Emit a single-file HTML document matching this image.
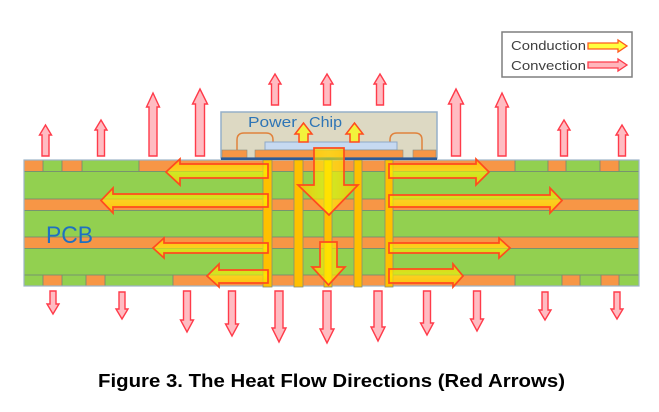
<!DOCTYPE html>
<html>
<head>
<meta charset="utf-8">
<style>
  html,body{margin:0;padding:0;background:#fff;}
  svg{display:block;}
</style>
</head>
<body>
<svg width="659" height="412" viewBox="0 0 659 412" xmlns="http://www.w3.org/2000/svg">
  <defs>
    <linearGradient id="condH" x1="0" y1="0" x2="0" y2="1">
      <stop offset="0" stop-color="#FFC000" stop-opacity="0.8"/>
      <stop offset="0.5" stop-color="#FFFF00" stop-opacity="0.55"/>
      <stop offset="1" stop-color="#FFC000" stop-opacity="0.8"/>
    </linearGradient>
    <linearGradient id="condV" x1="0" y1="0" x2="1" y2="0">
      <stop offset="0" stop-color="#FFC000" stop-opacity="0.8"/>
      <stop offset="0.5" stop-color="#FFFF00" stop-opacity="0.55"/>
      <stop offset="1" stop-color="#FFC000" stop-opacity="0.8"/>
    </linearGradient>
  </defs>
  <rect width="659" height="412" fill="#fff"/>

  <!-- Legend -->
  <rect x="502" y="32" width="130" height="45" fill="#fff" stroke="#7F7F7F" stroke-width="1.5"/>
  <text x="511" y="50" font-family="Liberation Sans, sans-serif" font-size="12.5" fill="#404040" textLength="75" lengthAdjust="spacingAndGlyphs">Conduction</text>
  <text x="511" y="70" font-family="Liberation Sans, sans-serif" font-size="12.5" fill="#404040" textLength="75" lengthAdjust="spacingAndGlyphs">Convection</text>
  <polygon points="588,43 618,43 618,40 627,46 618,52 618,49 588,49" fill="#FFFF40" stroke="#FF5A1E" stroke-width="1.3"/>
  <polygon points="588,62 618,62 618,59 627,65 618,71 618,68 588,68" fill="#FFB6BC" stroke="#FF3B4A" stroke-width="1.3"/>

  <!-- Convection up arrows -->
  <g fill="#FFBCC2" stroke="#FF3B4A" stroke-width="1.4" stroke-linejoin="miter">
    <polygon points="42,156 42,135 39.5,135 45.5,125 51.5,135 49,135 49,156"/>
    <polygon points="97.5,156 97.5,130 95,130 101,120 107,130 104.5,130 104.5,156"/>
    <polygon points="149,156 149,107 146.5,107 153,93 159.5,107 157,107 157,156"/>
    <polygon points="195.5,156 195.5,104 192.5,104 200,89 207.5,104 204.5,104 204.5,156"/>
    <polygon points="271.5,105 271.5,84 269,84 275,74 281,84 278.5,84 278.5,105"/>
    <polygon points="323.5,105 323.5,84 321,84 327,74 333,84 330.5,84 330.5,105"/>
    <polygon points="376.5,105 376.5,84 374,84 380,74 386,84 383.5,84 383.5,105"/>
    <polygon points="451.5,156 451.5,104 448.5,104 456,89 463.5,104 460.5,104 460.5,156"/>
    <polygon points="498,156 498,107 495.5,107 502,93 508.5,107 506,107 506,156"/>
    <polygon points="560.5,156 560.5,130 558,130 564,120 570,130 567.5,130 567.5,156"/>
    <polygon points="618.5,156 618.5,135 616,135 622,125 628,135 625.5,135 625.5,156"/>
  </g>
  <!-- Convection down arrows -->
  <g fill="#FFBCC2" stroke="#FF3B4A" stroke-width="1.4">
    <polygon points="50,291 50,304 47,304 53,314 59,304 56,304 56,291"/>
    <polygon points="119,292 119,309 116,309 122,319 128,309 125,309 125,292"/>
    <polygon points="183.5,291 183.5,320 180.5,320 187,332 193.5,320 190.5,320 190.5,291"/>
    <polygon points="228.5,291 228.5,324 225.5,324 232,336 238.5,324 235.5,324 235.5,291"/>
    <polygon points="275,291 275,328 272,328 279,342 286,328 283,328 283,291"/>
    <polygon points="323,291 323,329 320,329 327,343 334,329 331,329 331,291"/>
    <polygon points="374,291 374,327 371,327 378,341 385,327 382,327 382,291"/>
    <polygon points="423.5,291 423.5,323 420.5,323 427,335 433.5,323 430.5,323 430.5,291"/>
    <polygon points="473.5,291 473.5,319 470.5,319 477,331 483.5,319 480.5,319 480.5,291"/>
    <polygon points="542,292 542,310 539,310 545,320 551,310 548,310 548,292"/>
    <polygon points="614,292 614,309 611,309 617,319 623,309 620,309 620,292"/>
  </g>

  <!-- PCB -->
  <rect x="24" y="160" width="615" height="126" fill="#92D050"/>
  <g fill="#F79646">
    <rect x="24" y="160" width="19" height="11"/>
    <rect x="62" y="160" width="20" height="11"/>
    <rect x="139" y="160" width="376" height="11"/>
    <rect x="548" y="160" width="18" height="11"/>
    <rect x="600" y="160" width="19" height="11"/>
    <rect x="24" y="199" width="615" height="11"/>
    <rect x="24" y="237" width="615" height="11"/>
    <rect x="43" y="275" width="19" height="11"/>
    <rect x="86" y="275" width="19" height="11"/>
    <rect x="173" y="275" width="342" height="11"/>
    <rect x="562" y="275" width="18" height="11"/>
    <rect x="601" y="275" width="18" height="11"/>
  </g>
  <g stroke="#6E8078" stroke-width="1" opacity="0.75">
    <line x1="24" y1="171.5" x2="639" y2="171.5"/>
    <line x1="24" y1="199" x2="639" y2="199"/>
    <line x1="24" y1="210.5" x2="639" y2="210.5"/>
    <line x1="24" y1="237" x2="639" y2="237"/>
    <line x1="24" y1="248.5" x2="639" y2="248.5"/>
    <line x1="24" y1="275" x2="639" y2="275"/>
    <line x1="43" y1="160" x2="43" y2="171"/>
    <line x1="62" y1="160" x2="62" y2="171"/>
    <line x1="82" y1="160" x2="82" y2="171"/>
    <line x1="139" y1="160" x2="139" y2="171"/>
    <line x1="515" y1="160" x2="515" y2="171"/>
    <line x1="548" y1="160" x2="548" y2="171"/>
    <line x1="566" y1="160" x2="566" y2="171"/>
    <line x1="600" y1="160" x2="600" y2="171"/>
    <line x1="619" y1="160" x2="619" y2="171"/>
    <line x1="43" y1="275" x2="43" y2="286"/>
    <line x1="62" y1="275" x2="62" y2="286"/>
    <line x1="86" y1="275" x2="86" y2="286"/>
    <line x1="105" y1="275" x2="105" y2="286"/>
    <line x1="173" y1="275" x2="173" y2="286"/>
    <line x1="515" y1="275" x2="515" y2="286"/>
    <line x1="562" y1="275" x2="562" y2="286"/>
    <line x1="580" y1="275" x2="580" y2="286"/>
    <line x1="601" y1="275" x2="601" y2="286"/>
    <line x1="619" y1="275" x2="619" y2="286"/>
  </g>
  <rect x="24" y="160" width="615" height="126" fill="none" stroke="#9DB3C8" stroke-width="1.2"/>

  <!-- Vias -->
  <g fill="#FFC000" stroke="#8C8C6E" stroke-width="0.8">
    <rect x="263" y="160" width="9" height="127"/>
    <rect x="294" y="160" width="9" height="127"/>
    <rect x="324" y="160" width="8" height="127"/>
    <rect x="354" y="160" width="8" height="127"/>
    <rect x="385" y="160" width="8" height="127"/>
  </g>

  <!-- Chip -->
  <rect x="221" y="112" width="216" height="46" fill="#DDD9C3" stroke="#95AFC8" stroke-width="1.5"/>
  <path d="M237 150 L237 140 Q237 133 244 133 L266 133 Q273 133 273 140 L273 143" fill="none" stroke="#E0823C" stroke-width="1.5"/>
  <path d="M390 143 L390 140 Q390 133 397 133 L415 133 Q422 133 422 140 L422 150" fill="none" stroke="#E0823C" stroke-width="1.5"/>
  <rect x="265" y="142" width="132" height="8" fill="#C6D9F1" stroke="#8EA9C8" stroke-width="1"/>
  <g fill="#F79646" stroke="#8C8C80" stroke-width="0.6">
    <rect x="222" y="150" width="25" height="7.5"/>
    <rect x="255" y="150" width="148" height="7.5"/>
    <rect x="413" y="150" width="23" height="7.5"/>
  </g>
  <rect x="221" y="157.5" width="216" height="2.5" fill="#2F5A96"/>
  <text x="248" y="127" font-family="Liberation Sans, sans-serif" font-size="15" fill="#2E75B6" textLength="49" lengthAdjust="spacingAndGlyphs">Power</text>
  <text x="309" y="127" font-family="Liberation Sans, sans-serif" font-size="15" fill="#2E75B6" textLength="33" lengthAdjust="spacingAndGlyphs">Chip</text>
  <g fill="#F2F23C" stroke="#FF4B1E" stroke-width="1.5">
    <polygon points="299,142 299,134 295,134 303.5,123 312,134 308,134 308,142"/>
    <polygon points="350,142 350,134 346,134 354.5,123 363,134 359,134 359,142"/>
  </g>

  <!-- Conduction arrows (horizontal) -->
  <g fill="url(#condH)" stroke="#FF4B1E" stroke-width="1.7" stroke-linejoin="miter">
    <polygon points="268,164 180,164 180,159 166,172 180,185 180,178 268,178"/>
    <polygon points="268,194 113,194 113,188 101,200.5 113,213 113,207 268,207"/>
    <polygon points="268,243 164,243 164,238 153,248 164,258 164,253 268,253"/>
    <polygon points="268,270 219,270 219,264 207,276 219,287 219,283 268,283"/>
    <polygon points="389,164 476,164 476,159 489,172 476,185 476,178 389,178"/>
    <polygon points="389,195 550,195 550,188 562,200.5 550,213 550,207 389,207"/>
    <polygon points="389,243 499,243 499,238 510,248 499,258 499,253 389,253"/>
    <polygon points="389,269 453,269 453,264 463,276 453,287 453,283 389,283"/>
  </g>
  <g fill="url(#condV)" stroke="#FF4B1E" stroke-width="1.7" stroke-linejoin="miter">
    <polygon points="314,148 344,148 344,185 358,185 329,215 298,185 314,185"/>
    <polygon points="320,242 337,242 337,267 345,267 328.5,285 312,267 320,267"/>
  </g>

  <!-- PCB label -->
  <text x="46" y="243" font-family="Liberation Sans, sans-serif" font-size="24" fill="#1F70C1" textLength="47" lengthAdjust="spacingAndGlyphs">PCB</text>

  <!-- Caption -->
  <text x="98" y="387" font-family="Liberation Sans, Arial, sans-serif" font-size="18" font-weight="bold" fill="#000" textLength="467" lengthAdjust="spacingAndGlyphs">Figure 3. The Heat Flow Directions (Red Arrows)</text>
</svg>
</body>
</html>
